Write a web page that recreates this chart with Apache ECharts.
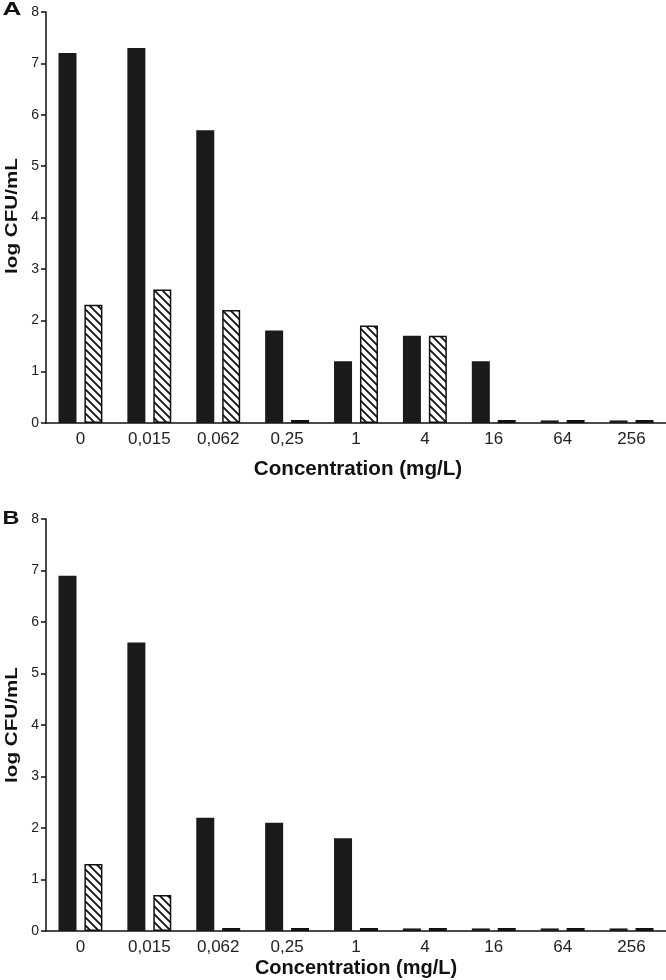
<!DOCTYPE html>
<html><head><meta charset="utf-8">
<script src="https://cdn.jsdelivr.net/npm/echarts@6/dist/echarts.min.js"></script>
<style>html,body{margin:0;padding:0;background:#fff}#c{width:666px;height:980px}</style>
</head><body><div id="c"></div>
<script>
var categories = ['0', '0,015', '0,062', '0,25', '1', '4', '16', '64', '256'];
var panelABlack = [7.2, 7.3, 5.7, 1.8, 1.2, 1.7, 1.2, 0.05, 0.05];
var panelAHatched = [2.3, 2.6, 2.2, 0.06, 1.9, 1.7, 0.06, 0.06, 0.06];
var panelBBlack = [6.9, 5.6, 2.2, 2.1, 1.8, 0.05, 0.05, 0.05, 0.05];
var panelBHatched = [1.3, 0.7, 0.06, 0.06, 0.06, 0.06, 0.06, 0.06, 0.06];
var yTicks = [0, 1, 2, 3, 4, 5, 6, 7, 8];
var xName = 'Concentration (mg/L)';
var yName = 'log CFU/mL';
var panelLabels = ['A', 'B'];

function hatch() {
  var s = 8, cv = document.createElement('canvas');
  cv.width = s; cv.height = s;
  var g = cv.getContext('2d');
  g.fillStyle = '#fff'; g.fillRect(0, 0, s, s);
  g.strokeStyle = '#111'; g.lineWidth = 1.8;
  g.beginPath();
  g.moveTo(-1, -1); g.lineTo(s + 1, s + 1);
  g.moveTo(-2, s - 2); g.lineTo(2, s + 2);
  g.moveTo(s - 2, -2); g.lineTo(s + 2, 2);
  g.stroke();
  return cv;
}
var pat = { image: hatch(), repeat: 'repeat' };

var chart = echarts.init(document.getElementById('c'), null, { renderer: 'canvas' });
var FONT = 'Liberation Sans, Arial, sans-serif';

function xAxis(idx) {
  return {
    type: 'category', gridIndex: idx, data: categories,
    axisLine: { lineStyle: { color: '#111', width: 1.5 } },
    axisTick: { show: false },
    axisLabel: { margin: 8, color: '#222', fontSize: 17, fontFamily: FONT }
  };
}
function yAxis(idx) {
  return {
    type: 'value', gridIndex: idx, min: 0, max: 8, interval: 1,
    axisLine: { show: true, lineStyle: { color: '#111', width: 1.5 } },
    axisTick: { show: true, length: 5, lineStyle: { color: '#111', width: 1.5 } },
    axisLabel: { margin: 7, color: '#222', fontSize: 14, fontFamily: FONT,
      formatter: function (v) { return yTicks.indexOf(v) >= 0 ? String(v) : ''; } },
    splitLine: { show: false }
  };
}
function blackSeries(idx, data) {
  return { type: 'bar', xAxisIndex: idx, yAxisIndex: idx, data: data, barWidth: 18, barGap: '44%',
    itemStyle: { color: '#1a1a1a' }, silent: true };
}
function hatchSeries(idx, data) {
  return { type: 'bar', xAxisIndex: idx, yAxisIndex: idx, data: data, barWidth: 18, barGap: '44%',
    itemStyle: { color: pat, borderColor: '#111', borderWidth: 1.5 }, silent: true };
}
function txt(text, x, y, size, sx, rot) {
  return { type: 'text', x: x, y: y, rotation: rot || 0, scaleX: sx, scaleY: 1, silent: true,
    style: { text: text, fontSize: size, fontWeight: 'bold', fontFamily: FONT, fill: '#111',
      align: 'center', verticalAlign: 'middle' } };
}

chart.setOption({
  animation: false,
  grid: [
    { left: 46, top: 12, height: 411, width: 620, outerBoundsMode: 'none', containLabel: false },
    { left: 46, top: 519, height: 412, width: 620, outerBoundsMode: 'none', containLabel: false }
  ],
  xAxis: [xAxis(0), xAxis(1)],
  yAxis: [yAxis(0), yAxis(1)],
  series: [
    blackSeries(0, panelABlack), hatchSeries(0, panelAHatched),
    blackSeries(1, panelBBlack), hatchSeries(1, panelBHatched)
  ],
  graphic: [
    txt(panelLabels[0], 12, 10, 18, 1.45),
    txt(panelLabels[1], 11, 519, 18, 1.3),
    txt(yName, 13, 216, 16, 1.29, Math.PI / 2),
    txt(yName, 13, 725, 16, 1.29, Math.PI / 2),
    txt(xName, 358, 469, 20, 1.03),
    txt(xName, 356, 968, 20, 1.0)
  ]
});
</script></body></html>
